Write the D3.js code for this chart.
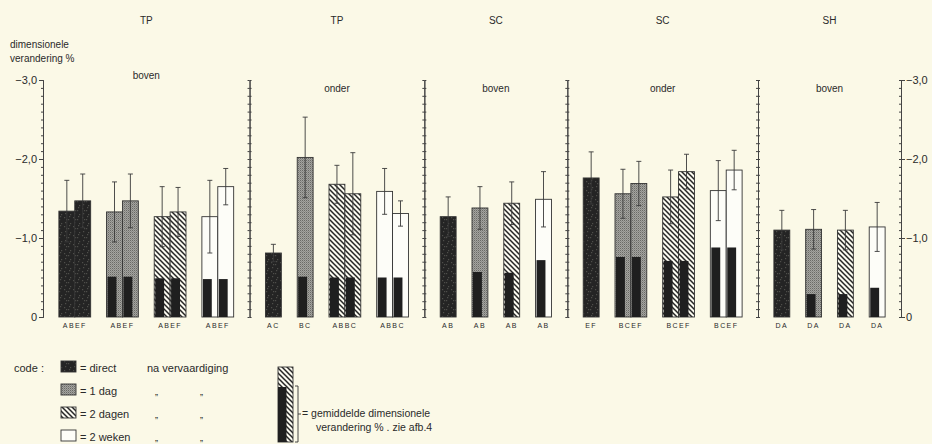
<!DOCTYPE html>
<html lang="nl">
<head>
  <meta charset="UTF-8">
  <title>dimensionele verandering</title>
  <style>
    body { margin: 0; background: #fbf9e7; }
    svg { display: block; }
    text { font-family: 'Liberation Sans', Arial, sans-serif; fill: #2a2a2a; }
    .axis path, .axis line { stroke: #444; stroke-width: 1; }
    .axis text { font-size: 11px; fill: #2a2a2a; }
  </style>
</head>
<body>
  <div id="chart"></div>
  <script src="https://cdnjs.cloudflare.com/ajax/libs/d3/7.8.5/d3.min.js"></script>
  <script>
    // Panel headings
    const panelTitles = ['TP', 'TP', 'SC', 'SC', 'SH'];
    const panelSides = ['boven', 'onder', 'boven', 'onder', 'boven'];
    const codeNames = ['direct', '1 dag', '2 dagen', '2 weken'];

    // Labels under each bar group (letters of the significance code)
    const groupLabels = [
      ['ABEF', 'ABEF', 'ABEF', 'ABEF'],
      ['AC', 'BC', 'ABBC', 'ABBC'],
      ['AB', 'AB', 'AB', 'AB'],
      ['EF', 'BCEF', 'BCEF', 'BCEF'],
      ['DA', 'DA', 'DA', 'DA']
    ];

    // Mean dimensional change % per panel, per group (direct, 1 dag, 2 dagen, 2 weken)
    const barValues = [
      [[-1.34, -1.47], [-1.33, -1.47], [-1.27, -1.33], [-1.27, -1.65]],
      [[-0.81], [-2.02], [-1.68, -1.56], [-1.59, -1.31]],
      [[-1.27], [-1.38], [-1.44], [-1.49]],
      [[-1.76], [-1.56, -1.69], [-1.52, -1.84], [-1.60, -1.86]],
      [[-1.10], [-1.11], [-1.10], [-1.14]]
    ];

    // Standard deviations (half length of the error bar)
    const barErrors = [
      [[0.39, 0.34], [0.38, 0.34], [0.38, 0.31], [0.46, 0.23]],
      [[0.11], [0.51], [0.24, 0.52], [0.29, 0.16]],
      [[0.25], [0.27], [0.27], [0.35]],
      [[0.33], [0.31, 0.28], [0.34, 0.22], [0.38, 0.25]],
      [[0.25], [0.25], [0.25], [0.31]]
    ];

    // Change measured directly after fabrication, drawn inside the later bars
    const directValues = [
      [null, -0.51, -0.49, -0.48],
      [null, -0.51, -0.50, -0.50],
      [null, -0.57, -0.56, -0.72],
      [null, -0.76, -0.71, -0.88],
      [null, -0.29, -0.29, -0.37]
    ];

    const yTicks = [0, -1, -2, -3];

    const W = 932, H = 444;
    const plot = { left: 43, right: 901, top: 80, bottom: 317 };

    const svg = d3.select('#chart').append('svg')
      .attr('width', W)
      .attr('height', H);

    svg.append('rect').attr('width', W).attr('height', H).attr('fill', '#fbf9e7');

    // Fill patterns
    const defs = svg.append('defs');
    let pd = defs.append('pattern').attr('id', 'pDirect')
      .attr('patternUnits', 'userSpaceOnUse').attr('width', 9).attr('height', 9);
    pd.append('rect').attr('width', 9).attr('height', 9).attr('fill', '#242424');
    [[1, 1], [5, 3], [2, 6], [7, 7], [6, 0], [3, 3]].forEach(p => {
      pd.append('rect').attr('x', p[0]).attr('y', p[1]).attr('width', 1.2).attr('height', 1.2).attr('fill', '#4e4e4a');
    });

    let p1 = defs.append('pattern').attr('id', 'pDag')
      .attr('patternUnits', 'userSpaceOnUse').attr('width', 2).attr('height', 2);
    p1.append('rect').attr('width', 2).attr('height', 2).attr('fill', '#a4a4a0');
    p1.append('rect').attr('width', 1).attr('height', 1).attr('fill', '#6a6a66');
    p1.append('rect').attr('x', 1).attr('y', 1).attr('width', 1).attr('height', 1).attr('fill', '#8a8a86');

    let p2 = defs.append('pattern').attr('id', 'pDagen')
      .attr('patternUnits', 'userSpaceOnUse').attr('width', 5).attr('height', 5);
    p2.append('rect').attr('width', 5).attr('height', 5).attr('fill', '#fbfaf0');
    p2.append('path').attr('d', 'M0,0 L5,5 M-1,4 L1,6 M4,-1 L6,1')
      .attr('stroke', '#262626').attr('stroke-width', 1.5);

    const codeFill = ['url(#pDirect)', 'url(#pDag)', 'url(#pDagen)', '#fdfdf8'];

    // Layout in units of one bar width: a gap before every group and at panel end
    let bars = [];
    let groups = [];
    let panelEdges = [0];
    let u = 0;
    barValues.forEach((panel, p) => {
      u += 1;
      panel.forEach((vals, g) => {
        groups.push({ p: p, g: g, start: u, n: vals.length, label: groupLabels[p][g] });
        vals.forEach((v, s) => {
          bars.push({ p: p, g: g, s: s, u: u, v: v, e: barErrors[p][g][s], d: directValues[p][g] });
          u += 1;
        });
        u += 1;
      });
      panelEdges.push(u);
    });

    const x = d3.scaleLinear().domain([0, u]).range([plot.left, plot.right]);
    const y = d3.scaleLinear().domain([0, -3]).range([plot.bottom, plot.top]);

    const fmt = v => v === 0 ? '0' : '\u2212' + Math.abs(v).toFixed(1).replace('.', ',');

    // Bars
    svg.selectAll('.bar')
      .data(bars).enter()
      .append('rect')
      .attr('class', 'bar')
      .attr('x', d => x(d.u))
      .attr('y', d => y(d.v))
      .attr('width', d => x(d.u + 1) - x(d.u))
      .attr('height', d => y(0) - y(d.v))
      .attr('fill', d => codeFill[d.g])
      .attr('stroke', '#333')
      .attr('stroke-width', 0.9);

    // Direct value inside later bars
    svg.selectAll('.inner')
      .data(bars.filter(d => d.d !== null)).enter()
      .append('rect')
      .attr('class', 'inner')
      .attr('x', d => x(d.u) + 1)
      .attr('y', d => y(d.d))
      .attr('width', d => (x(d.u + 1) - x(d.u)) * 0.56)
      .attr('height', d => y(0) - y(d.d))
      .attr('fill', '#1f1f1f');

    // Error bars
    const err = svg.selectAll('.err')
      .data(bars).enter()
      .append('g')
      .attr('class', 'err')
      .attr('transform', d => `translate(${(x(d.u) + x(d.u + 1)) / 2},0)`)
      .attr('stroke', '#3a3a3a')
      .attr('stroke-width', 0.9);
    err.append('line')
      .attr('y1', d => y(d.v - d.e))
      .attr('y2', d => y(d.v + d.e));
    err.append('line')
      .attr('x1', -2.5).attr('x2', 2.5)
      .attr('y1', d => y(d.v - d.e)).attr('y2', d => y(d.v - d.e));
    err.append('line')
      .attr('x1', -2.5).attr('x2', 2.5)
      .attr('y1', d => y(d.v + d.e)).attr('y2', d => y(d.v + d.e));

    // Group labels
    svg.selectAll('.glabel')
      .data(groups).enter()
      .append('text')
      .attr('class', 'glabel')
      .attr('x', d => x(d.start + d.n / 2))
      .attr('y', 328)
      .attr('text-anchor', 'middle')
      .style('font-size', '7px')
      .style('letter-spacing', '1.4px')
      .text(d => d.label);

    // Axes
    const minor = d3.range(0, -3.001, -0.1);
    svg.append('g').attr('class', 'axis')
      .attr('transform', `translate(${plot.left},0)`)
      .call(d3.axisLeft(y).tickValues(minor).tickSize(2).tickFormat(''));
    svg.append('g').attr('class', 'axis')
      .attr('transform', `translate(${plot.left},0)`)
      .call(d3.axisLeft(y).tickValues(yTicks).tickSize(4).tickPadding(2).tickFormat(fmt));

    panelEdges.slice(1, -1).forEach(e => {
      svg.append('g').attr('class', 'axis')
        .attr('transform', `translate(${x(e)},0)`)
        .call(d3.axisLeft(y).tickValues(minor).tickSize(2).tickSizeOuter(0).tickFormat(''));
      svg.append('g').attr('class', 'axis')
        .attr('transform', `translate(${x(e)},0)`)
        .call(d3.axisRight(y).tickValues(minor).tickSize(2).tickSizeOuter(0).tickFormat(''));
    });

    svg.append('g').attr('class', 'axis')
      .attr('transform', `translate(${plot.right},0)`)
      .call(d3.axisLeft(y).tickValues(minor).tickSize(2).tickSizeOuter(0).tickFormat(''));
    svg.append('g').attr('class', 'axis')
      .attr('transform', `translate(${plot.right},0)`)
      .call(d3.axisRight(y).tickValues(yTicks).tickSize(4).tickPadding(1).tickFormat(fmt));

    svg.selectAll('.axis .tick text').style('font-size', '11px').attr('fill', '#2a2a2a');

    // Panel titles
    panelTitles.forEach((t, i) => {
      const cx = (x(panelEdges[i]) + x(panelEdges[i + 1])) / 2;
      svg.append('text')
        .attr('x', cx).attr('y', 24)
        .attr('text-anchor', 'middle')
        .style('font-size', '10px')
        .text(t);
      svg.append('text')
        .attr('x', cx).attr('y', i === 0 ? 79 : 92)
        .attr('text-anchor', 'middle')
        .style('font-size', '10px')
        .text(panelSides[i]);
    });

    // Y axis title
    svg.append('text').attr('x', 10).attr('y', 48).style('font-size', '10px').text('dimensionele');
    svg.append('text').attr('x', 10).attr('y', 62).style('font-size', '10px').text('verandering %');

    // Legend
    const legend = svg.append('g').attr('class', 'legend');
    legend.append('text').attr('x', 14).attr('y', 372).style('font-size', '11px').text('code :');
    codeNames.forEach((c, i) => {
      const ly = 361 + i * 23;
      legend.append('rect')
        .attr('x', 61).attr('y', ly)
        .attr('width', 15).attr('height', 11)
        .attr('fill', codeFill[i])
        .attr('stroke', '#333').attr('stroke-width', 0.9);
      legend.append('text')
        .attr('x', 80).attr('y', ly + 10.5)
        .style('font-size', '11px')
        .text('= ' + c);
      if (i === 0) {
        legend.append('text').attr('x', 147).attr('y', ly + 10.5)
          .style('font-size', '11px').text('na vervaardiging');
      } else {
        legend.append('text').attr('x', 155).attr('y', ly + 10.5)
          .style('font-size', '9px').text('\u201e');
        legend.append('text').attr('x', 200).attr('y', ly + 10.5)
          .style('font-size', '9px').text('\u201e');
      }
    });

    // Example bar explaining the inner dark bar
    legend.append('rect')
      .attr('x', 278).attr('y', 367).attr('width', 15).attr('height', 75)
      .attr('fill', 'url(#pDagen)').attr('stroke', '#333').attr('stroke-width', 0.9);
    legend.append('rect')
      .attr('x', 278).attr('y', 387).attr('width', 8.5).attr('height', 55)
      .attr('fill', '#1f1f1f');
    legend.append('path')
      .attr('d', 'M295,386 L298,386 L298,442 L295,442 M298,414 L301,414')
      .attr('fill', 'none').attr('stroke', '#333').attr('stroke-width', 0.9);
    legend.append('text').attr('x', 302).attr('y', 417).style('font-size', '10.5px')
      .text('= gemiddelde dimensionele');
    legend.append('text').attr('x', 316).attr('y', 431).style('font-size', '10.5px')
      .text('verandering % .  zie afb.4');
  </script>
</body>
</html>
